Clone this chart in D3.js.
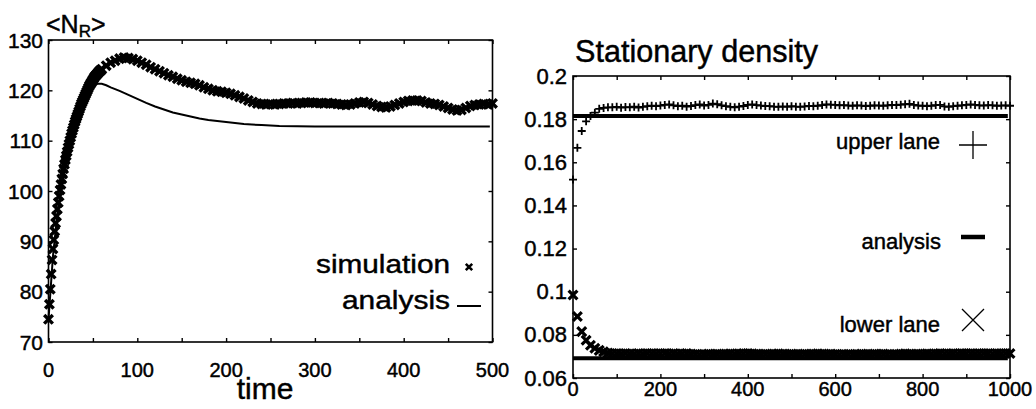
<!DOCTYPE html>
<html><head><meta charset="utf-8">
<script src="https://cdn.jsdelivr.net/npm/d3@7"></script>
<style>
html,body{margin:0;padding:0;background:#fff;}
svg text{font-family:"Liberation Sans",Arial,Helvetica,sans-serif;fill:#000;stroke:#000;stroke-width:0.45px;}
</style></head>
<body>
<svg id="c" width="1036" height="409"></svg>
<script>
// ---------- Left panel data ----------
const simTime = [0,1,2,3,4,5,6,7,8,9,10,11,12,13,14,15,16,17,18,19,20,21,22,23,24,25,26,27,28,29,30,31,32,33,34,35,36,37,38,39,40,
 41,42,43,44,45,46,47,48,49,50,51,52,53,54,55,56,57,58,59,60,
 65,70,75,80,85,90,95,100,105,110,115,120,125,130,135,140,145,150,155,160,165,170,175,180,185,190,195,200,
 205,210,215,220,225,230,235,240,245,250,255,260,265,270,275,280,285,290,295,300,305,310,315,320,325,330,335,340,345,350,
 355,360,365,370,375,380,385,390,395,400,405,410,415,420,425,430,435,440,445,450,455,460,465,470,475,480,485,490,495,500];
const simValue = [74.5,77.5,80.5,83.5,86.3,88.5,90.3,92,93.6,95,96.4,97.7,99,100.2,101.3,102.4,103.4,104.4,105.3,106.2,107,
 107.8,108.6,109.3,110,110.7,111.4,112,112.6,113.2,113.8,114.3,114.8,115.3,115.8,116.3,116.8,117.3,117.7,118.1,118.5,
 118.9,119.3,119.7,120.1,120.5,120.9,121.2,121.5,121.8,122.1,122.4,122.7,122.9,123.1,123.3,123.5,123.7,123.9,124.0,124.2,
 124.9,125.5,125.9,126.3,126.5,126.4,126.2,125.9,125.5,125.1,124.6,124.2,123.8,123.4,123.0,122.7,
 122.3,122.0,121.7,121.5,121.3,121.0,120.6,120.3,120.0,119.8,119.7,119.5,119.3,119.0,118.7,118.4,118.0,117.7,117.4,117.3,
 117.2,117.3,117.2,117.3,117.4,117.4,117.5,117.4,117.5,117.6,117.6,117.5,117.5,117.4,117.5,117.4,117.3,117.2,117.1,117.2,
 117.4,117.6,117.7,117.5,117.2,116.9,116.7,116.6,116.8,117.1,117.4,117.7,117.9,118.0,118.0,117.9,117.6,117.4,117.3,117.1,
 116.8,116.5,116.2,116.0,116.1,116.5,116.9,117.1,117.2,117.3,117.2,117.4];
const anaTime = [0,5,10,15,20,25,30,35,40,45,50,55,60,65,70,80,90,100,110,120,130,140,150,160,170,180,190,200,220,240,260,280,300,350,400,450,497];
const anaValue = [74.5,87,95.5,102,106.5,110.5,113.5,116,118,119.5,120.6,121.3,121.3,121.0,120.6,119.9,119.1,118.3,117.5,116.8,116.2,115.6,115.2,114.8,114.4,114.1,113.9,113.7,113.3,113.1,112.9,112.85,112.8,112.8,112.8,112.8,112.8];
const leftXTicks = [0,100,200,300,400,500];
const leftYTicks = [70,80,90,100,110,120,130];

// ---------- Right panel data ----------
const laneTime = d3.range(0, 1001, 10);
const upperLane = [0.152,0.1667,0.1745,0.179,0.1815,0.183,0.1848,0.1852,0.1855,0.1855,0.1857,0.1853,0.1856,0.1855,0.1858,0.1854,0.1857,0.1860,0.1862,0.1860,
 0.1863,0.1866,0.1868,0.1864,0.1860,0.1862,0.1858,0.1861,0.1865,0.1868,0.1863,0.1866,0.1872,0.1869,0.1864,0.1860,0.1857,0.1855,0.1858,0.1861,
 0.1866,0.1868,0.1865,0.1863,0.1861,0.1860,0.1858,0.1857,0.1859,0.1857,0.1860,0.1858,0.1857,0.1859,0.1861,0.1860,0.1862,0.1865,0.1868,0.1867,
 0.1866,0.1864,0.1865,0.1863,0.1862,0.1864,0.1863,0.1861,0.1862,0.1864,0.1863,0.1862,0.1864,0.1866,0.1865,0.1867,0.1869,0.1871,0.1866,0.1863,
 0.1862,0.1860,0.1862,0.1865,0.1866,0.1859,0.1857,0.1860,0.1862,0.1864,0.1866,0.1868,0.1866,0.1864,0.1863,0.1865,0.1864,0.1862,0.1863,0.1864,0.1862];
const lowerLane = [0.0985,0.0885,0.0815,0.0775,0.0752,0.0738,0.0728,0.0722,0.0716,0.0714,0.0713,0.0712,0.0714,0.0712,0.0711,0.0713,0.0712,0.0714,0.0713,0.0712,
 0.0713,0.0714,0.0712,0.0713,0.0711,0.0712,0.0713,0.0711,0.0710,0.0709,0.0710,0.0711,0.0710,0.0711,0.0710,0.0711,0.0712,0.0711,0.0712,0.0713,
 0.0714,0.0712,0.0711,0.0710,0.0711,0.0710,0.0711,0.0712,0.0711,0.0710,0.0711,0.0710,0.0710,0.0711,0.0710,0.0711,0.0712,0.0711,0.0710,0.0711,
 0.0710,0.0709,0.0710,0.0710,0.0709,0.0710,0.0711,0.0710,0.0710,0.0711,0.0710,0.0711,0.0710,0.0709,0.0710,0.0711,0.0712,0.0711,0.0710,0.0711,
 0.0711,0.0712,0.0711,0.0712,0.0713,0.0712,0.0712,0.0713,0.0712,0.0713,0.0714,0.0713,0.0712,0.0713,0.0714,0.0713,0.0712,0.0713,0.0713,0.0714,0.0714];
const upperAnalysis = 0.1815;
const lowerAnalysis = 0.0692;
const rightXTicks = [0,200,400,600,800,1000];
const rightYTicks = [0.06,0.08,0.1,0.12,0.14,0.16,0.18,0.2];

const svg = d3.select("#c");
function crossPath(s){ return `M${-s},${-s}L${s},${s}M${-s},${s}L${s},${-s}`; }
function plusPath(s){ return `M${-s},0L${s},0M0,${-s}L0,${s}`; }

// ================= LEFT PANEL =================
const lx = d3.scaleLinear().domain([0,500]).range([48.5,492.5]);
const ly = d3.scaleLinear().domain([70,130]).range([342,40]);
const L = svg.append("g");

L.append("path")
  .attr("d", d3.line().x((d,i)=>lx(anaTime[i])).y(d=>ly(d))(anaValue))
  .attr("fill","none").attr("stroke","#000").attr("stroke-width",2);

L.append("g").selectAll("path").data(simValue).join("path")
  .attr("transform",(d,i)=>`translate(${lx(simTime[i])},${ly(d)})`)
  .attr("d", crossPath(4.3))
  .attr("stroke","#000").attr("stroke-width",3.4).attr("fill","none");

L.append("rect").attr("x",lx(0)).attr("y",ly(130)).attr("width",lx(500)-lx(0)).attr("height",ly(70)-ly(130))
  .attr("fill","none").attr("stroke","#000").attr("stroke-width",1.6);
const lxt = L.append("g").attr("transform",`translate(0,${ly(70)})`)
  .call(d3.axisBottom(lx).tickValues(d3.range(0,501,50)).tickSize(-4).tickFormat(""));
const lxt2 = L.append("g").attr("transform",`translate(0,${ly(130)})`)
  .call(d3.axisTop(lx).tickValues(d3.range(0,501,50)).tickSize(-4).tickFormat(""));
const lyt = L.append("g").attr("transform",`translate(${lx(0)},0)`)
  .call(d3.axisLeft(ly).tickValues(leftYTicks).tickSize(-4).tickFormat(""));
const lyt2 = L.append("g").attr("transform",`translate(${lx(500)},0)`)
  .call(d3.axisRight(ly).tickValues(leftYTicks).tickSize(-4).tickFormat(""));
[lxt,lxt2,lyt,lyt2].forEach(g=>{g.select(".domain").remove(); g.selectAll("line").attr("stroke-width",1.4);});

L.append("g").selectAll("text").data(leftXTicks).join("text")
  .attr("x",d=>lx(d)).attr("y",377).attr("text-anchor","middle").attr("font-size",20).text(d=>d);
L.append("g").selectAll("text").data(leftYTicks).join("text")
  .attr("x",43).attr("y",d=>ly(d)+7.5).attr("text-anchor","end").attr("font-size",21).text(d=>d);

L.append("text").attr("x",265).attr("y",399).attr("text-anchor","middle").attr("font-size",30).text("time");
const nr = L.append("text").attr("x",46).attr("y",33).attr("font-size",25);
nr.append("tspan").text("<N");
nr.append("tspan").attr("font-size",17).attr("dy",4).text("R");
nr.append("tspan").attr("dy",-4).text(">");

// legend
L.append("text").attr("x",316).attr("y",273).attr("font-size",26)
  .attr("textLength",134).attr("lengthAdjust","spacingAndGlyphs").text("simulation");
L.append("path").attr("transform","translate(469,267)").attr("d",crossPath(3.2)).attr("stroke","#000").attr("stroke-width",2.6);
L.append("text").attr("x",342).attr("y",309).attr("font-size",26)
  .attr("textLength",108).attr("lengthAdjust","spacingAndGlyphs").text("analysis");
L.append("line").attr("x1",457).attr("x2",481).attr("y1",306).attr("y2",306).attr("stroke","#000").attr("stroke-width",2);

// ================= RIGHT PANEL =================
const rx = d3.scaleLinear().domain([0,1000]).range([573,1010]);
const ry = d3.scaleLinear().domain([0.06,0.2]).range([378,76]);
const R = svg.append("g");

[upperAnalysis, lowerAnalysis].forEach(v=>{
  R.append("line").attr("x1",rx(0)).attr("x2",rx(995)).attr("y1",ry(v)).attr("y2",ry(v))
   .attr("stroke","#000").attr("stroke-width",4);
});
R.append("g").selectAll("path").data(upperLane).join("path")
  .attr("transform",(d,i)=>`translate(${rx(laneTime[i])},${ry(d)})`)
  .attr("d", plusPath(4)).attr("stroke","#000").attr("stroke-width",1.8).attr("fill","none");
R.append("g").selectAll("path").data(lowerLane).join("path")
  .attr("transform",(d,i)=>`translate(${rx(laneTime[i])},${ry(d)})`)
  .attr("d", crossPath(4.4)).attr("stroke","#000").attr("stroke-width",3.2).attr("fill","none");

R.append("rect").attr("x",rx(0)).attr("y",ry(0.2)).attr("width",rx(1000)-rx(0)).attr("height",ry(0.06)-ry(0.2))
  .attr("fill","none").attr("stroke","#000").attr("stroke-width",1.6);
const rxt = R.append("g").attr("transform",`translate(0,${ry(0.06)})`)
  .call(d3.axisBottom(rx).tickValues(d3.range(0,1001,100)).tickSize(-4).tickFormat(""));
const rxt2 = R.append("g").attr("transform",`translate(0,${ry(0.2)})`)
  .call(d3.axisTop(rx).tickValues(d3.range(0,1001,100)).tickSize(-4).tickFormat(""));
const ryt = R.append("g").attr("transform",`translate(${rx(0)},0)`)
  .call(d3.axisLeft(ry).tickValues(rightYTicks).tickSize(-4).tickFormat(""));
const ryt2 = R.append("g").attr("transform",`translate(${rx(1000)},0)`)
  .call(d3.axisRight(ry).tickValues(rightYTicks).tickSize(-4).tickFormat(""));
[rxt,rxt2,ryt,ryt2].forEach(g=>{g.select(".domain").remove(); g.selectAll("line").attr("stroke-width",1.4);});

R.append("g").selectAll("text").data(rightXTicks).join("text")
  .attr("x",d=>rx(d)).attr("y",396).attr("text-anchor","middle").attr("font-size",20).text(d=>d);
R.append("g").selectAll("text").data(rightYTicks).join("text")
  .attr("x",567).attr("y",d=>ry(d)+7.5).attr("text-anchor","end").attr("font-size",22)
  .text(d=>d3.format("")(+d.toFixed(2)));

R.append("text").attr("x",575).attr("y",62).attr("font-size",31)
  .attr("textLength",243).attr("lengthAdjust","spacingAndGlyphs").text("Stationary density");

R.append("text").attr("x",940).attr("y",149).attr("text-anchor","end").attr("font-size",22).text("upper lane");
R.append("path").attr("transform","translate(973,145)").attr("d",plusPath(14)).attr("stroke","#000").attr("stroke-width",1.3);
R.append("text").attr("x",941).attr("y",249).attr("text-anchor","end").attr("font-size",22).text("analysis");
R.append("line").attr("x1",961).attr("x2",985).attr("y1",237).attr("y2",237).attr("stroke","#000").attr("stroke-width",4.5);
R.append("text").attr("x",940).attr("y",332).attr("text-anchor","end").attr("font-size",22).text("lower lane");
R.append("path").attr("transform","translate(973,320)").attr("d",crossPath(11)).attr("stroke","#000").attr("stroke-width",1.3);
</script>
</body></html>
